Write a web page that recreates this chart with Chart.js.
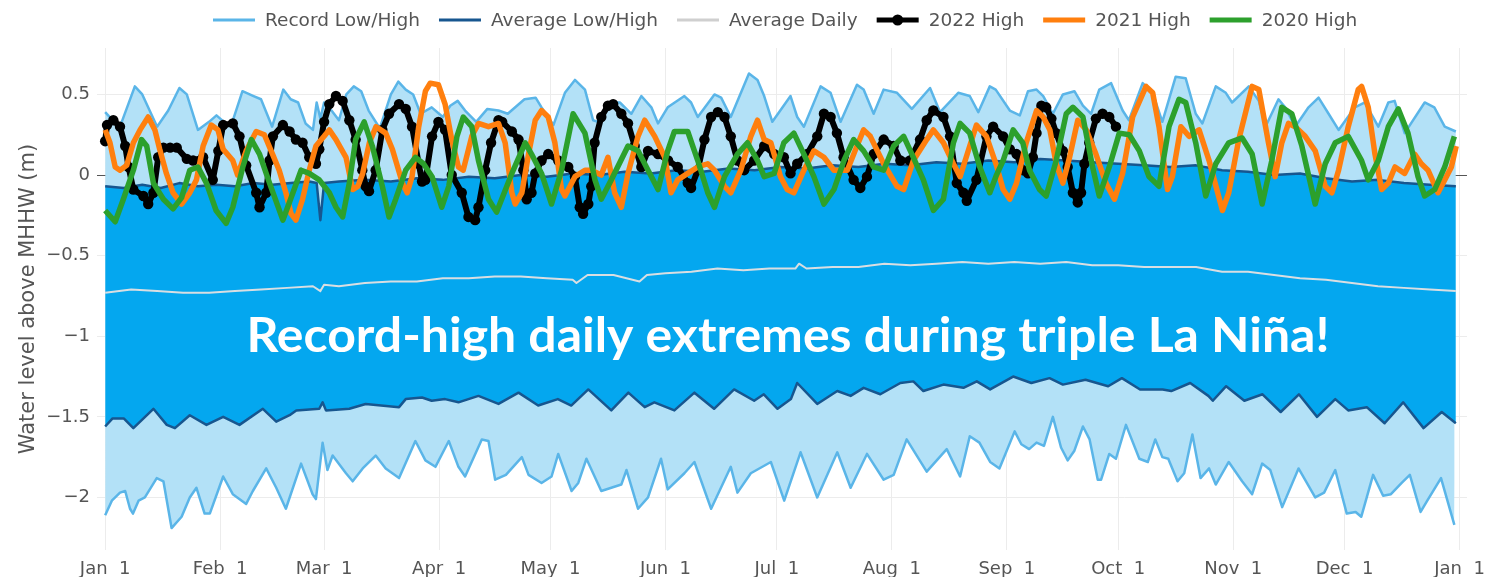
<!DOCTYPE html>
<html>
<head>
<meta charset="utf-8">
<title>Water level above MHHW</title>
<script src="https://cdn.jsdelivr.net/npm/chart.js@4"></script>
<style>
  html, body { margin: 0; padding: 0; background: #fff; }
  #wrap { width: 1494px; height: 577px; }
</style>
</head>
<body>
<div id="wrap"><canvas id="tideChart" width="1494" height="577"></canvas></div>
<script>
// day of year (0 = Jan 1) and water level in metres
const recordHigh = [[0,0.39],[2,0.34],[4,0.30],[8,0.55],[10,0.50],[14,0.30],[17,0.40],[20,0.54],[22,0.50],[25,0.28],
  [28,0.33],[30,0.37],[32,0.33],[34,0.31],[37,0.52],[40,0.49],[42,0.47],[45,0.30],[48,0.53],[50,0.47],
  [52,0.45],[54,0.32],[56,0.28],[57,0.45],[58,0.35],[59,0.45],[61,0.40],[63,0.34],[65,0.50],[67,0.55],
  [69,0.52],[71,0.40],[74,0.29],[77,0.50],[79,0.58],[81,0.53],[83,0.50],[85,0.38],[88,0.42],[91,0.36],
  [93,0.43],[95,0.46],[97,0.40],[100,0.33],[103,0.41],[106,0.40],[108.5,0.38],[113,0.47],[116,0.48],[117.6,0.42],
  [120.8,0.31],[123.9,0.51],[126.6,0.59],[129.3,0.53],[131.5,0.34],[132.8,0.33],[135.5,0.45],[138.7,0.45],[141.8,0.38],[144.5,0.49],
  [147.2,0.42],[149,0.32],[151.6,0.42],[156.1,0.49],[157.9,0.45],[159.7,0.36],[164.2,0.50],[166,0.48],[168.6,0.36],[173.5,0.63],
  [175.8,0.59],[177.6,0.49],[179.8,0.33],[184.7,0.49],[186.5,0.36],[188.3,0.30],[192.8,0.55],[195.5,0.51],[198.2,0.33],[202.6,0.56],
  [204.4,0.53],[207.1,0.38],[209.8,0.53],[213.4,0.51],[217.4,0.41],[222.3,0.54],[225,0.39],[229.9,0.51],[233,0.49],[235.3,0.39],
  [238.4,0.55],[240,0.53],[243.8,0.40],[246.5,0.37],[248.7,0.52],[251,0.53],[252.8,0.49],[255.4,0.38],[258.1,0.50],[261.2,0.52],
  [263.5,0.43],[265.7,0.38],[267.9,0.53],[271.1,0.57],[274.2,0.40],[275.9,0.34],[279.6,0.57],[282.3,0.51],[284.9,0.33],[288.5,0.61],
  [291.2,0.60],[293.9,0.38],[295.7,0.32],[299.3,0.55],[302,0.51],[303.7,0.45],[308.2,0.55],[310.9,0.46],[312.7,0.30],[316.2,0.47],
  [318,0.42],[320.7,0.30],[324.3,0.42],[327,0.48],[329.7,0.38],[332.4,0.28],[336.8,0.42],[339.5,0.45],[343.1,0.30],[345.8,0.45],
  [347.5,0.46],[350.2,0.26],[355.6,0.45],[358.2,0.42],[361,0.30],[364,0.27]];

const avgHigh = [[0,-0.07],[5,-0.08],[10,-0.06],[15,-0.08],[20,-0.05],[25,-0.07],[30,-0.06],[35,-0.07],[40,-0.05],[45,-0.06],
  [50,-0.05],[55,-0.04],[57,-0.05],[58,-0.28],[59,-0.05],[63,-0.04],[70,-0.03],[77,-0.04],[84,-0.02],[91,-0.03],
  [98,-0.01],[105,-0.02],[112,0.0],[119,-0.01],[126,0.01],[133,0.0],[140,0.02],[147,0.01],[154,0.03],[161,0.02],
  [168,0.04],[175,0.03],[182,0.05],[189,0.04],[196,0.06],[203,0.05],[210,0.07],[217,0.06],[224,0.08],[231,0.07],
  [238,0.09],[245,0.08],[252,0.10],[259,0.09],[266,0.08],[273,0.07],[280,0.06],[287,0.05],[294,0.06],[301,0.03],
  [308,0.02],[315,0.0],[322,0.01],[329,-0.02],[336,-0.04],[343,-0.03],[350,-0.05],[357,-0.06],[364,-0.07]];

const avgLow = [[0,-1.56],[2,-1.51],[5,-1.51],[7.6,-1.57],[13,-1.45],[16.6,-1.55],[18.8,-1.57],[22.8,-1.49],[27.3,-1.55],[31.8,-1.50],
  [36.2,-1.55],[42.5,-1.45],[46.1,-1.53],[49.7,-1.49],[51.5,-1.46],[57.7,-1.45],[58.6,-1.41],[59.5,-1.46],[65.8,-1.45],[70.2,-1.42],
  [79.2,-1.44],[81,-1.39],[85.4,-1.38],[88,-1.40],[91.6,-1.39],[95.2,-1.41],[100.6,-1.37],[106,-1.42],[111.4,-1.35],[116.7,-1.43],
  [122,-1.39],[125.6,-1.43],[130.2,-1.33],[136.4,-1.46],[141,-1.35],[145.4,-1.44],[148,-1.41],[153.4,-1.46],[158.8,-1.35],[164.1,-1.45],
  [169.5,-1.33],[174.9,-1.40],[177.5,-1.36],[181.2,-1.45],[184.8,-1.39],[186.5,-1.29],[191.9,-1.42],[197.3,-1.34],[200.9,-1.37],[204.4,-1.32],
  [208.9,-1.36],[214.3,-1.29],[217.8,-1.28],[220.5,-1.34],[225.9,-1.30],[231.3,-1.32],[234.9,-1.28],[238.5,-1.33],[244.7,-1.25],[249.6,-1.29],
  [254.5,-1.26],[258.1,-1.30],[264.2,-1.27],[270.3,-1.31],[274,-1.26],[278.9,-1.33],[285,-1.33],[287.3,-1.34],[292.4,-1.29],[297.3,-1.37],
  [298.5,-1.40],[302.1,-1.31],[307,-1.40],[311.9,-1.36],[316.8,-1.47],[321.7,-1.36],[326.6,-1.50],[331.5,-1.39],[335,-1.46],[340,-1.44],
  [344.8,-1.54],[349.8,-1.41],[355.3,-1.57],[360.2,-1.47],[364,-1.54]];

const recordLow = [[0,-2.11],[1.8,-2.02],[4,-1.97],[5.4,-1.96],[6.7,-2.07],[7.5,-2.10],[9,-2.02],[10.7,-2.00],[13.9,-1.88],[15.7,-1.90],
  [17.9,-2.19],[20.6,-2.12],[22.8,-2.00],[24.6,-1.94],[26.8,-2.10],[28.2,-2.10],[31.8,-1.87],[34.4,-1.98],[38,-2.04],[39.8,-1.96],
  [43.4,-1.82],[46.1,-1.94],[48.7,-2.07],[52.8,-1.79],[55.9,-1.98],[56.8,-2.01],[58.6,-1.66],[59.9,-1.83],[61.3,-1.74],[64.9,-1.85],
  [66.7,-1.90],[69.4,-1.82],[72.9,-1.74],[75.6,-1.82],[79.2,-1.88],[83.6,-1.65],[86.3,-1.77],[89,-1.81],[92.6,-1.65],[95.2,-1.81],
  [97,-1.87],[101.5,-1.64],[103.3,-1.65],[105.1,-1.89],[108,-1.86],[112.3,-1.75],[114.1,-1.86],[117.6,-1.91],[120.3,-1.87],[122.1,-1.73],
  [125.7,-1.96],[127.5,-1.91],[129.7,-1.76],[133.7,-1.96],[139.1,-1.92],[140.5,-1.83],[143.6,-2.07],[146.3,-2.00],[149.8,-1.76],[151.6,-1.95],
  [156.1,-1.85],[158.8,-1.78],[163.3,-2.07],[168.6,-1.81],[170.4,-1.97],[174,-1.85],[179.4,-1.78],[183,-2.02],[187.4,-1.72],[191.9,-2.00],
  [197.3,-1.72],[200.9,-1.94],[205.3,-1.73],[209.8,-1.89],[212.5,-1.86],[216,-1.64],[221.4,-1.84],[226.8,-1.70],[230.4,-1.87],[233,-1.62],
  [235.6,-1.66],[238.5,-1.78],[241,-1.82],[245.1,-1.59],[246.9,-1.67],[249,-1.70],[251,-1.66],[253,-1.68],[255.4,-1.50],[257.6,-1.69],
  [259.4,-1.77],[261.2,-1.71],[263.5,-1.56],[265.3,-1.64],[267.5,-1.89],[268.4,-1.89],[270.6,-1.73],[272.4,-1.76],[275.1,-1.55],[278.7,-1.76],
  [281,-1.78],[283,-1.64],[284.9,-1.75],[286.5,-1.76],[289,-1.90],[290.8,-1.85],[293,-1.61],[295.2,-1.88],[297.5,-1.82],[299.3,-1.92],
  [302.8,-1.78],[306.4,-1.90],[309.1,-1.98],[311.8,-1.79],[314,-1.83],[317.2,-2.06],[321.6,-1.82],[326.1,-2.00],[328.5,-1.97],[331.5,-1.83],
  [334.6,-2.10],[337,-2.09],[338.5,-2.12],[341.7,-1.86],[344.4,-1.99],[346.5,-1.98],[349.4,-1.91],[351.6,-1.86],[354.5,-2.09],[356.3,-2.02],
  [360,-1.88],[363.6,-2.17]];

const avgDaily = [[0,-0.73],[7,-0.71],[14,-0.72],[21,-0.73],[28,-0.73],[35,-0.72],[42,-0.71],[49,-0.70],[56,-0.69],[58,-0.72],
  [59,-0.68],[63,-0.69],[70,-0.67],[77,-0.66],[84,-0.66],[91,-0.64],[98,-0.64],[105,-0.63],[112,-0.63],[119,-0.64],
  [126,-0.65],[127,-0.67],[130,-0.62],[137,-0.62],[144,-0.66],[146,-0.62],[151,-0.61],[158,-0.60],[165,-0.58],[172,-0.59],
  [179,-0.58],[186,-0.58],[187,-0.55],[189,-0.58],[196,-0.57],[203,-0.57],[210,-0.55],[217,-0.56],[224,-0.55],[231,-0.54],
  [238,-0.55],[245,-0.54],[252,-0.55],[259,-0.54],[266,-0.56],[273,-0.56],[280,-0.57],[287,-0.57],[294,-0.57],[301,-0.60],
  [308,-0.60],[315,-0.62],[322,-0.64],[329,-0.65],[336,-0.67],[343,-0.69],[350,-0.70],[357,-0.71],[364,-0.72]];

const high2022 = [[0,0.21],[0.5,0.31],[2.2,0.34],[4,0.30],[5.4,0.18],[6.3,0.05],[7.6,-0.09],[10.3,-0.13],[11.6,-0.18],[13,-0.11],
  [14.3,0.11],[15.7,0.17],[17.5,0.17],[19.3,0.17],[22,0.10],[23.7,0.09],[26.4,0.11],[29,-0.03],[30.5,0.15],[31.8,0.31],
  [34.4,0.32],[36.2,0.24],[38,0.06],[40.7,-0.11],[41.6,-0.20],[43.4,-0.11],[44.3,0.09],[45.2,0.24],[47.9,0.31],[49.7,0.27],
  [51.4,0.22],[53.2,0.20],[55,0.11],[56.8,0.07],[57.7,0.16],[59,0.33],[60.4,0.44],[62.2,0.49],[64,0.46],[65.8,0.34],
  [67.5,0.22],[69.3,0.03],[70.2,-0.07],[71.1,-0.10],[72.9,0.03],[74.7,0.28],[76.5,0.38],[79.2,0.44],[81,0.41],[82.7,0.30],
  [84.5,0.07],[85.4,-0.04],[86.3,-0.03],[88.1,0.24],[89.8,0.33],[91.6,0.28],[93.4,0.0],[96.1,-0.11],[97.9,-0.26],[99.7,-0.28],
  [100.6,-0.20],[102.4,0.03],[104,0.20],[106,0.34],[107,0.33],[109.6,0.27],[111.4,0.22],[112.7,0.03],[113.6,-0.15],[114.9,-0.11],
  [115.9,0.01],[117.6,0.09],[119.4,0.13],[122.1,0.09],[124.8,0.05],[126.6,-0.01],[127.9,-0.20],[128.8,-0.24],[130.2,-0.18],[131,-0.07],
  [131.9,0.20],[133.7,0.36],[135.5,0.43],[136.9,0.44],[139.1,0.38],[140.9,0.32],[142.7,0.18],[144.5,0.05],[146.3,0.15],[149,0.13],
  [151.7,0.09],[154.3,0.05],[157,-0.05],[157.9,-0.08],[159.7,0.03],[161.5,0.22],[163.3,0.36],[165.1,0.39],[166.9,0.36],[168.6,0.24],
  [170.4,0.09],[172.2,0.03],[174.9,0.09],[177.6,0.18],[180.3,0.13],[182.9,0.11],[184.7,0.01],[186.5,0.07],[189.2,0.13],[191.9,0.24],
  [193.7,0.38],[195.5,0.36],[197.2,0.26],[199,0.11],[201.7,-0.03],[203.5,-0.08],[205.3,-0.01],[207.1,0.13],[209.8,0.22],[212.5,0.18],
  [214.3,0.09],[216.9,0.09],[219.6,0.22],[221.4,0.34],[223.2,0.40],[225.9,0.36],[227.7,0.24],[229.5,-0.05],[231.3,-0.11],[232.2,-0.16],
  [234.8,-0.03],[237.5,0.24],[239.3,0.30],[242,0.24],[243.8,0.16],[245.6,0.13],[247.3,0.03],[248.7,0.01],[250,0.11],[251,0.26],
  [252.3,0.43],[253.6,0.42],[255,0.35],[256.3,0.26],[258.1,0.15],[259.4,0.05],[260.8,-0.11],[262.1,-0.17],[263,-0.11],[263.9,0.07],
  [265.2,0.20],[267,0.35],[268.8,0.38],[270.6,0.36],[272.4,0.30]];

const high2021 = [[0,0.28],[1.3,0.20],[2.7,0.05],[4,0.03],[5.8,0.06],[7.6,0.20],[9.4,0.28],[11.6,0.36],[13.4,0.28],[14.7,0.16],
  [16.5,0.01],[18.3,-0.11],[20.6,-0.18],[22.8,-0.11],[24.6,-0.03],[26.4,0.18],[28.6,0.31],[30.4,0.28],[31.8,0.16],[34.4,0.09],
  [35.7,0.0],[38,0.15],[40.7,0.27],[42.9,0.25],[45.1,0.13],[46.9,0.03],[48.7,-0.11],[50.1,-0.24],[51.4,-0.28],[53.2,-0.15],
  [55,0.03],[56.8,0.18],[59,0.24],[60.4,0.28],[62.2,0.22],[64.9,0.11],[66.7,-0.09],[68.1,-0.07],[69.4,0.01],[71.2,0.20],
  [73,0.30],[75.6,0.26],[77.4,0.16],[80.1,-0.05],[81.4,-0.11],[82.7,-0.01],[84.5,0.30],[86.3,0.52],[87.6,0.57],[89.8,0.56],
  [91.6,0.44],[93.4,0.22],[95.2,0.05],[96.5,0.03],[98.8,0.24],[100.6,0.32],[103.3,0.30],[106,0.32],[107.8,0.20],[109.6,-0.11],
  [110.5,-0.18],[112.3,-0.11],[114.1,0.13],[115.9,0.34],[117.6,0.40],[119.4,0.36],[121.2,0.20],[123,-0.09],[123.9,-0.13],[126.6,-0.01],
  [129.3,0.03],[131,0.03],[133.7,0.0],[135.5,0.11],[137.3,-0.11],[139.1,-0.20],[140.9,0.01],[143.6,0.24],[145.4,0.34],[148.1,0.24],
  [150.8,0.11],[152.5,-0.11],[154.3,-0.03],[157,0.01],[159.7,0.05],[162.4,0.07],[164.2,0.03],[166.9,-0.07],[168.6,-0.11],[171.3,0.03],
  [174,0.24],[175.8,0.34],[177.6,0.22],[179.4,0.20],[182,-0.01],[183.8,-0.09],[185.6,-0.11],[188.3,0.03],[191,0.15],[193.7,0.11],
  [196.4,0.03],[200,0.03],[202.6,0.18],[204.4,0.28],[206.2,0.24],[209.8,0.07],[213.4,-0.07],[215.2,-0.09],[217.8,0.09],[221.4,0.22],
  [223.2,0.28],[225.9,0.20],[228.6,0.07],[230.4,-0.01],[233,0.18],[234.8,0.31],[237.5,0.24],[240.2,0.06],[242,-0.09],[243.8,-0.15],
  [245.6,-0.05],[248.2,0.20],[251,0.40],[252.8,0.36],[254.6,0.28],[256.3,0.07],[258.1,-0.05],[259.9,0.11],[262.1,0.34],[264.4,0.28],
  [267,0.13],[269.7,-0.05],[272,-0.15],[274.2,0.01],[276.9,0.36],[280.5,0.55],[282.3,0.51],[284,0.30],[286.3,-0.09],[287.6,-0.01],
  [289.9,0.30],[292.1,0.24],[294.8,0.28],[297.5,0.09],[301.1,-0.22],[302.8,-0.11],[305.5,0.22],[309.1,0.55],[310.9,0.53],[313.5,0.20],
  [315.3,-0.01],[317.1,0.20],[318.9,0.32],[320.7,0.30],[323.4,0.24],[326.1,0.15],[328.8,-0.07],[330.6,-0.11],[332.4,0.03],[335,0.30],
  [337.7,0.53],[338.6,0.55],[340.4,0.42],[342.2,0.13],[344,-0.09],[345.8,-0.05],[347.6,0.05],[350.2,0.01],[352.9,0.13],[354.7,0.07],
  [356.5,0.03],[359.2,-0.11],[361,-0.03],[362.8,0.05],[364.1,0.18]];

const high2020 = [[0,-0.22],[2.7,-0.29],[4.9,-0.15],[7.6,0.03],[9.8,0.22],[11.2,0.18],[13,-0.05],[15.7,-0.15],[18.3,-0.21],[20.6,-0.14],
  [22.8,0.03],[25,0.05],[27.3,-0.05],[29.9,-0.22],[32.6,-0.30],[34.4,-0.20],[37.1,0.05],[39.4,0.22],[41.6,0.13],[44.3,-0.05],
  [47.9,-0.28],[50.6,-0.11],[52.8,0.03],[55,0.01],[57.7,-0.03],[60.4,-0.11],[62.2,-0.20],[64,-0.26],[65.8,-0.05],[67.5,0.22],
  [69.8,0.33],[72,0.18],[74.7,-0.07],[76.5,-0.26],[78.3,-0.15],[81,0.03],[83.6,0.11],[85.8,0.07],[88.1,-0.01],[90.7,-0.20],
  [92.6,-0.07],[94.8,0.24],[96.5,0.36],[98.8,0.30],[100.6,0.09],[103.3,-0.15],[105.5,-0.23],[109.6,0.01],[113.2,0.20],[114.9,0.13],
  [117.6,0.01],[120.3,-0.18],[123,0.03],[126.1,0.38],[129.3,0.26],[132,-0.03],[133.7,-0.15],[136.4,-0.03],[140.9,0.18],[143.6,0.15],
  [146.3,0.03],[149,-0.09],[151.6,0.15],[153.4,0.27],[157,0.27],[159.7,0.09],[162.4,-0.11],[164.2,-0.20],[166.9,-0.01],[170.4,0.13],
  [173.1,0.20],[175.8,0.09],[177.6,-0.01],[180.3,0.01],[182.9,0.20],[185.6,0.26],[188.3,0.13],[191,-0.01],[193.7,-0.18],[196.4,-0.09],
  [199.1,0.09],[201.7,0.22],[204.4,0.15],[207.1,0.05],[209.8,0.03],[212.5,0.18],[215.2,0.24],[217.8,0.11],[220.5,-0.03],[223.2,-0.22],
  [225.9,-0.15],[228.6,0.20],[230.4,0.32],[233,0.26],[235.7,0.05],[238.4,-0.11],[240.2,0.0],[242,0.09],[244.7,0.28],[247.3,0.20],
  [249.1,0.03],[251.8,-0.09],[253.6,-0.13],[256.3,0.09],[259,0.38],[260.8,0.42],[263.5,0.36],[266.1,0.05],[267.9,-0.13],[270.6,0.05],
  [273.3,0.26],[276,0.25],[278.7,0.15],[281.3,-0.01],[284,-0.07],[286.7,0.30],[289.4,0.47],[291.2,0.45],[293.9,0.20],[296.6,-0.13],
  [299.3,0.07],[302.8,0.20],[306.4,0.23],[309.1,0.13],[311.8,-0.18],[314.4,0.09],[317.1,0.42],[319.8,0.38],[322.5,0.18],[326.1,-0.18],
  [328.8,0.07],[331.5,0.20],[335,0.24],[338.6,0.09],[340.4,-0.03],[343.1,0.09],[345.8,0.30],[348.5,0.41],[351.1,0.26],[353.8,-0.01],
  [355.6,-0.13],[358.3,-0.09],[361,0.05],[363.6,0.24]];

const monthDays = [0, 31, 59, 90, 120, 151, 181, 212, 243, 273, 304, 334, 365];
const monthLabels = ['Jan  1','Feb  1','Mar  1','Apr  1','May  1','Jun  1','Jul  1','Aug  1','Sep  1','Oct  1','Nov  1','Dec  1','Jan  1'];
const yTicks = [-2, -1.5, -1, -0.5, 0, 0.5];

const legendLabels = ['Record Low/High', 'Average Low/High', 'Average Daily', '2022 High', '2021 High', '2020 High'];
const bannerText = 'Record-high daily extremes during triple La Niña!';

const RECORD = '#5ab5e8';
const AVERAGE = '#17568f';
const DAILY = '#d9dee2';
const LIGHT = '#b3e1f7';
const STRONG = '#04a7ef';
const C2022 = '#000000';
const C2021 = '#ff7f0e';
const C2020 = '#2ca02c';

function xy(rows) {
  return rows.map(r => ({x: r[0], y: r[1]}));
}

const legendStyle = [
  {color: RECORD, width: 3},
  {color: AVERAGE, width: 3},
  {color: '#cfcfcf', width: 3},
  {color: C2022, width: 5, dot: true},
  {color: C2021, width: 5},
  {color: C2020, width: 5}
];

const extras = {
  id: 'extras',
  afterDraw(chart) {
    const ctx = chart.ctx;
    ctx.save();
    // legend row
    ctx.font = '18.5px "DejaVu Sans"';
    ctx.textBaseline = 'middle';
    ctx.textAlign = 'left';
    let x = 213;
    const y = 20;
    legendLabels.forEach((label, i) => {
      const st = legendStyle[i];
      ctx.strokeStyle = st.color;
      ctx.lineWidth = st.width;
      ctx.beginPath();
      ctx.moveTo(x, y);
      ctx.lineTo(x + 42, y);
      ctx.stroke();
      if (st.dot) {
        ctx.fillStyle = st.color;
        ctx.beginPath();
        ctx.arc(x + 21, y, 5.5, 0, Math.PI * 2);
        ctx.fill();
      }
      ctx.fillStyle = '#555';
      ctx.fillText(label, x + 52, y + 1);
      x += 52 + ctx.measureText(label).width + 19;
    });

    // big white banner
    const cx = chart.scales.x.getPixelForValue(184);
    const by = chart.scales.y.getPixelForValue(-1.1);
    ctx.font = 'bold 47px Lato, "Open Sans", sans-serif';
    ctx.textBaseline = 'alphabetic';
    ctx.textAlign = 'center';
    const w = ctx.measureText(bannerText).width;
    ctx.translate(cx, by);
    ctx.scale(1083 / w, 1);
    ctx.fillStyle = '#ffffff';
    ctx.fillText(bannerText, 0, 0);
    ctx.restore();
  }
};

const bandLine = {pointRadius: 0, tension: 0, borderJoinStyle: 'round'};

const datasets = [
  Object.assign({label: 'Record High', data: xy(recordHigh), borderColor: RECORD, borderWidth: 2.5,
    fill: {target: 1, above: LIGHT, below: LIGHT}, order: 6}, bandLine),
  Object.assign({label: 'Average High', data: xy(avgHigh), borderColor: AVERAGE, borderWidth: 2.5,
    fill: {target: 2, above: STRONG, below: STRONG}, order: 5}, bandLine),
  Object.assign({label: 'Average Low', data: xy(avgLow), borderColor: AVERAGE, borderWidth: 2.5,
    fill: {target: 3, above: LIGHT, below: LIGHT}, order: 5}, bandLine),
  Object.assign({label: 'Record Low', data: xy(recordLow), borderColor: RECORD, borderWidth: 2.5,
    fill: false, order: 6}, bandLine),
  Object.assign({label: 'Average Daily', data: xy(avgDaily), borderColor: DAILY, borderWidth: 2,
    fill: false, order: 4}, bandLine),
  {label: '2022 High', data: xy(high2022), borderColor: C2022, borderWidth: 6, fill: false, tension: 0,
    pointRadius: 5.2, pointBorderWidth: 0, pointBackgroundColor: C2022, order: 2, borderJoinStyle: 'round'},
  {label: '2021 High', data: xy(high2021), borderColor: C2021, borderWidth: 5.5, fill: false, tension: 0,
    pointRadius: 0, order: 1, borderJoinStyle: 'round'},
  {label: '2020 High', data: xy(high2020), borderColor: C2020, borderWidth: 5.5, fill: false, tension: 0,
    pointRadius: 0, order: 0, borderJoinStyle: 'round'}
];

const tickFont = {family: 'DejaVu Sans', size: 18};

new Chart(document.getElementById('tideChart'), {
  type: 'line',
  data: {datasets: datasets},
  options: {
    responsive: false,
    animation: false,
    devicePixelRatio: 1,
    layout: {padding: {top: 48, right: 22, left: 0, bottom: 0}},
    plugins: {
      legend: {display: false},
      tooltip: {enabled: false},
      filler: {drawTime: 'beforeDatasetsDraw'}
    },
    scales: {
      x: {
        type: 'linear',
        min: -2.2,
        max: 367,
        afterBuildTicks: s => { s.ticks = monthDays.map(v => ({value: v})); },
        afterFit: s => { s.height = 27; },
        ticks: {
          callback: (v, i) => monthLabels[i],
          font: tickFont, color: '#555', padding: 9,
          maxRotation: 0, autoSkip: false
        },
        grid: {color: '#ececec', drawTicks: false},
        border: {display: false}
      },
      y: {
        type: 'linear',
        min: -2.326,
        max: 0.788,
        afterBuildTicks: s => { s.ticks = yTicks.map(v => ({value: v})); },
        afterFit: s => { s.width = 97; },
        ticks: {
          callback: v => String(v).replace('-', '\u2212'),
          font: tickFont, color: '#555', padding: 7
        },
        grid: {
          color: c => (c.tick && c.tick.value === 0 ? '#555' : '#ececec'),
          drawTicks: false
        },
        border: {display: false},
        title: {
          display: true,
          text: 'Water level above MHHW (m)',
          font: {family: 'DejaVu Sans', size: 21},
          color: '#555',
          padding: {top: 16, bottom: 0}
        }
      }
    }
  },
  plugins: [extras]
});
</script>
</body>
</html>
